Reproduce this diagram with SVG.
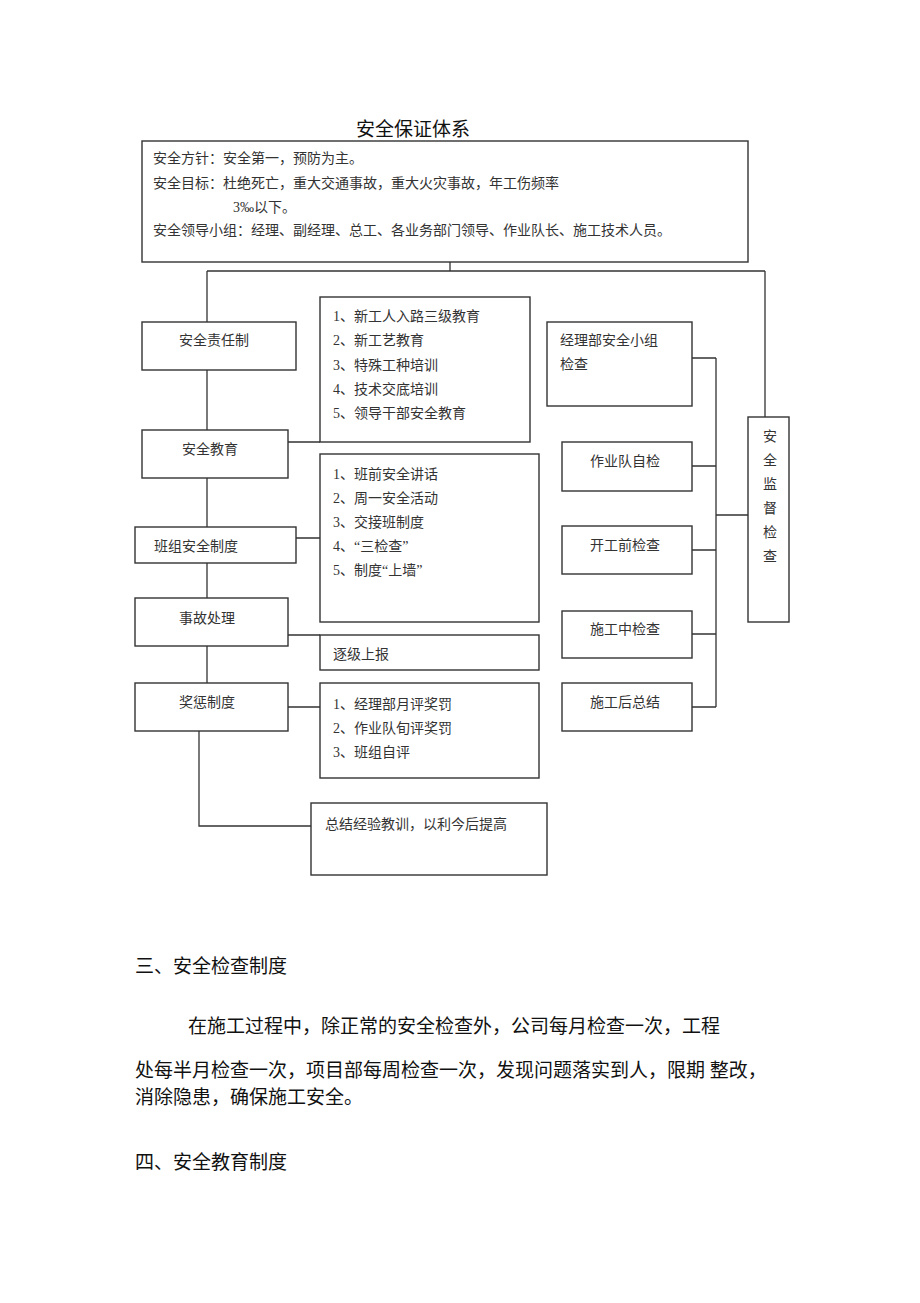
<svg xmlns="http://www.w3.org/2000/svg" width="920" height="1303" viewBox="0 0 920 1303">
<style>
text{font-family:"Liberation Serif","Noto Sans CJK SC",serif;fill:#333;font-size:14px}
.b{fill:#fff;stroke:#333;stroke-width:1.4}
.c{fill:none;stroke:#333;stroke-width:1.3}
.h{font-size:19px;fill:#111}
.m{text-anchor:middle}
</style>
<rect width="920" height="1303" fill="#fff"/>
<text class="h" x="356" y="136">安全保证体系</text>
<g id="connectors">
<path class="c" d="M450 262V271M207 271H765M207 271V322M765 271V417M207 370V430M207 478V527M207 563V598M207 646V683M199 731V826H311M288 442H320M296 538H320M288 635H320M288 707H320M692 358H716M692 466H716M692 550H716M692 634H716M692 707H716M716 358V707M716 515H748"/>
</g>
<g id="top"><rect class="b" x="142" y="141" width="606" height="121"/>
<text x="153" y="163">安全方针：安全第一，预防为主。</text>
<text x="153" y="188">安全目标：杜绝死亡，重大交通事故，重大火灾事故，年工伤频率</text>
<text x="233" y="212">3‰以下。</text>
<text x="153" y="235">安全领导小组：经理、副经理、总工、各业务部门领导、作业队长、施工技术人员。</text></g>
<g id="n1"><rect class="b" x="142" y="322" width="154" height="48"/><text class="m" x="214" y="345">安全责任制</text></g>
<g id="n2"><rect class="b" x="142" y="430" width="146" height="48"/><text class="m" x="210" y="454">安全教育</text></g>
<g id="n3"><rect class="b" x="135" y="527" width="161" height="36"/><text class="m" x="196" y="551">班组安全制度</text></g>
<g id="n4"><rect class="b" x="135" y="598" width="153" height="48"/><text class="m" x="207" y="623">事故处理</text></g>
<g id="n5"><rect class="b" x="135" y="683" width="153" height="48"/><text class="m" x="207" y="707">奖惩制度</text></g>
<g id="l1"><rect class="b" x="320" y="297" width="210" height="145"/>
<text x="333" y="321">1、新工人入路三级教育</text><text x="333" y="345">2、新工艺教育</text><text x="333" y="370">3、特殊工种培训</text><text x="333" y="394">4、技术交底培训</text><text x="333" y="418">5、领导干部安全教育</text></g>
<g id="l2"><rect class="b" x="320" y="454" width="219" height="168"/>
<text x="333" y="479">1、班前安全讲话</text><text x="333" y="503">2、周一安全活动</text><text x="333" y="527">3、交接班制度</text><text x="333" y="551">4、“三检查”</text><text x="333" y="575">5、制度“上墙”</text></g>
<g id="l3"><rect class="b" x="320" y="635" width="219" height="35"/><text x="333" y="659">逐级上报</text></g>
<g id="l4"><rect class="b" x="320" y="683" width="219" height="95"/>
<text x="333" y="709">1、经理部月评奖罚</text><text x="333" y="733">2、作业队旬评奖罚</text><text x="333" y="757">3、班组自评</text></g>
<g id="l5"><rect class="b" x="311" y="803" width="236" height="72"/><text x="325" y="829">总结经验教训，以利今后提高</text></g>
<g id="r1"><rect class="b" x="547" y="322" width="145" height="84"/><text x="560" y="345">经理部安全小组</text><text x="560" y="369">检查</text></g>
<g id="r2"><rect class="b" x="562" y="442" width="130" height="49"/><text class="m" x="625" y="466">作业队自检</text></g>
<g id="r3"><rect class="b" x="562" y="526" width="130" height="48"/><text class="m" x="625" y="550">开工前检查</text></g>
<g id="r4"><rect class="b" x="562" y="611" width="130" height="47"/><text class="m" x="625" y="634">施工中检查</text></g>
<g id="r5"><rect class="b" x="562" y="683" width="130" height="48"/><text class="m" x="625" y="707">施工后总结</text></g>
<g id="sup"><rect class="b" x="748" y="417" width="41" height="205"/>
<text class="m" x="770" y="441">安</text><text class="m" x="770" y="465">全</text><text class="m" x="770" y="489">监</text><text class="m" x="770" y="513">督</text><text class="m" x="770" y="537">检</text><text class="m" x="770" y="561">查</text></g>
<g id="body">
<text class="h" x="135" y="973">三、安全检查制度</text>
<text class="h" x="188" y="1033">在施工过程中，除正常的安全检查外，公司每月检查一次，工程</text>
<text class="h" x="135" y="1077">处每半月检查一次，项目部每周检查一次，发现问题落实到人，限期 整改，</text>
<text class="h" x="135" y="1104">消除隐患，确保施工安全。</text>
<text class="h" x="135" y="1169">四、安全教育制度</text>
</g>
</svg>
